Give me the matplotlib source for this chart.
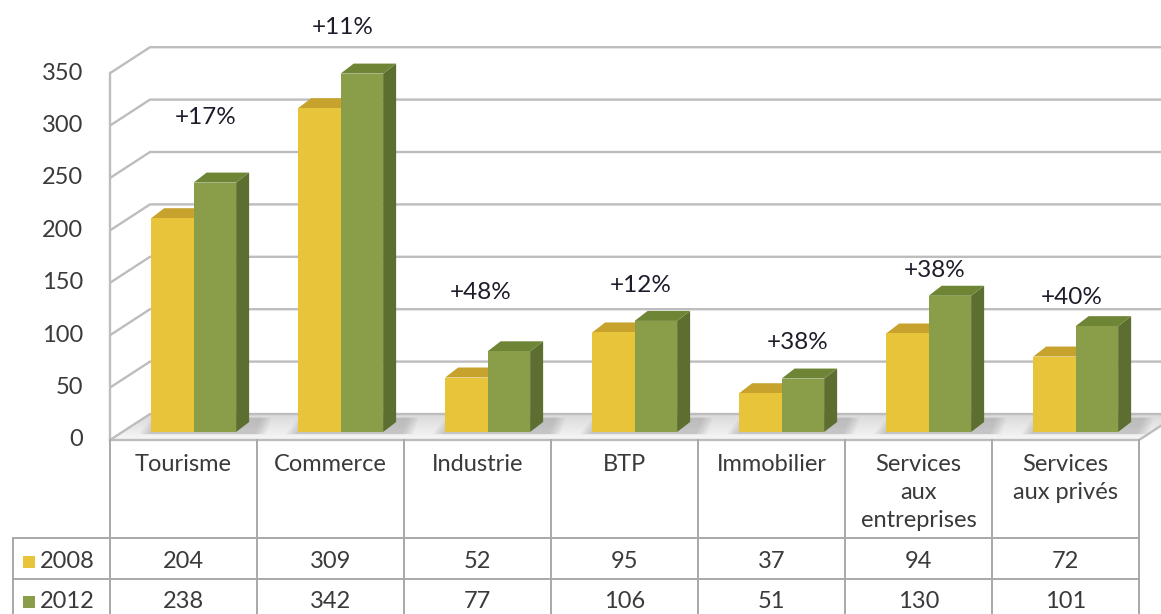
import matplotlib
matplotlib.use("Agg")
import matplotlib.pyplot as plt
from matplotlib.patches import Polygon
import numpy as np

# ---------------- data ----------------
categories = ["Tourisme", "Commerce", "Industrie", "BTP", "Immobilier",
              "Services\naux\nentreprises", "Services\naux privés"]
series_names = ["2008", "2012"]
values_2008 = [204, 309, 52, 95, 37, 94, 72]
values_2012 = [238, 342, 77, 106, 51, 130, 101]
growth_labels = ["+17%", "+11%", "+48%", "+12%", "+38%", "+38%", "+40%"]
yticks = [0, 50, 100, 150, 200, 250, 300, 350]

# ---------------- layout / style ----------------
W, H, DPI = 1161, 614, 100
X0_PX, CW_PX = 110, 147.0      # front plane left edge, category width (px)
Y0_PX, K = 440, 1.048          # value 0 row (px from top), px per unit
WALL_DX, WALL_DY = 40 / CW_PX, 26 / K
BAR_DX, BAR_DY = 13 / CW_PX, 10 / K
FACE_X, BAR_W, FACE_BASE = 0.28, 0.289, 8 / K
label_y = [308, 394, 141, 147, 93, 162, 136]
label_dx = [0.15, 0.08, 0.02, 0.11, 0.18, 0.11, 0.04]

c_front = ["#E8C43A", "#8A9E4A"]
c_top = ["#C7A22D", "#6E8536"]
c_side = ["#B8962A", "#5C6F30"]
grid_c = "#bdbdbd"
table_c = "#a8a8a8"
txt_c = "#3a3a3a"
FS = 17

FONT = ["Lato", "DejaVu Sans"]
plt.rcParams["font.family"] = FONT

fig = plt.figure(figsize=(W / DPI, H / DPI), dpi=DPI)
ax = fig.add_axes([0, 0, 1, 1])
ax.set_xlim(-X0_PX / CW_PX, (W - X0_PX) / CW_PX)
ax.set_ylim((Y0_PX - H) / K, Y0_PX / K)
ax.axis("off")

n = len(categories)
ymax = yticks[-1]
XR = n  # right edge of front plane

def ypx(p):
    return (Y0_PX - p) / K

def xpx(p):
    return (p - X0_PX) / CW_PX

# floor
floor = Polygon([(0, 0), (XR, 0), (XR + WALL_DX, WALL_DY), (WALL_DX, WALL_DY)],
                closed=True, facecolor="#ececec", edgecolor="none", zorder=1)
ax.add_patch(floor)
grad = np.linspace(0, 1, 64).reshape(-1, 1)
im = ax.imshow(grad, extent=(0, XR + WALL_DX, 0, WALL_DY), origin="lower",
               cmap=matplotlib.colors.LinearSegmentedColormap.from_list(
                   "fl", ["#f7f7f7", "#d9d9d9"]), aspect="auto", zorder=1)
im.set_clip_path(floor)

# gridlines: left wall diagonals + back wall
for v in yticks:
    ax.plot([0, WALL_DX, XR + WALL_DX + 1], [v, v + WALL_DY, v + WALL_DY],
            color=grid_c, lw=1.7, zorder=2, solid_capstyle="butt")
ax.plot([0, 0], [0, ymax], color=grid_c, lw=1.7, zorder=2)
# floor front edge & right edge
ax.plot([0, XR, XR + WALL_DX], [0, 0, WALL_DY], color=grid_c, lw=1.7, zorder=2)

# shadows on floor
for i in range(n):
    x0 = i + FACE_X
    x1 = x0 + 2 * BAR_W + BAR_DX
    for k in range(6):
        e = 0.014 * (6 - k)
        sh = Polygon([(x0 - e, FACE_BASE - 2), (x1 + e + 0.03, FACE_BASE - 2),
                      (x1 + e + 0.07, FACE_BASE + BAR_DY + 4),
                      (x0 + BAR_DX - e, FACE_BASE + BAR_DY + 4)],
                     closed=True, facecolor="#8a8a8a", alpha=0.08,
                     edgecolor="none", zorder=3)
        ax.add_patch(sh)

# bars
for i in range(n):
    for s, vals in enumerate([values_2008, values_2012]):
        v = vals[i]
        x0 = i + FACE_X + s * BAR_W
        x1 = x0 + BAR_W
        b = FACE_BASE
        t = b + v
        z = 4 + s
        ax.add_patch(Polygon([(x1, b), (x1 + BAR_DX, b + BAR_DY),
                              (x1 + BAR_DX, t + BAR_DY), (x1, t)],
                             closed=True, facecolor=c_side[s], edgecolor="none", zorder=z))
        ax.add_patch(Polygon([(x0, t), (x1, t), (x1 + BAR_DX, t + BAR_DY),
                              (x0 + BAR_DX, t + BAR_DY)],
                             closed=True, facecolor=c_top[s], edgecolor="none", zorder=z))
        ax.add_patch(Polygon([(x0, b), (x1, b), (x1, t), (x0, t)],
                             closed=True, facecolor=c_front[s], edgecolor="none", zorder=z))

# growth labels
for i in range(n):
    ax.text(i + 0.5 + label_dx[i], label_y[i], growth_labels[i], ha="center",
            va="center", fontsize=17.5, color="#1c1c2a", zorder=10)

# y tick labels
for v in yticks:
    ax.text(xpx(83), v, str(v), ha="right", va="center", fontsize=FS,
            color=txt_c, zorder=10)

# table
r1, r2, r3 = ypx(538), ypx(579), ypx(640)
xl = xpx(13)
for i in range(n + 1):
    ax.plot([i, i], [0, r3], color=table_c, lw=1.4, zorder=2)
ax.plot([xl, xl], [r1, r3], color=table_c, lw=1.4, zorder=2)
for r in (r1, r2):
    ax.plot([xl, XR], [r, r], color=table_c, lw=1.4, zorder=2)

for i, c in enumerate(categories):
    ax.text(i + 0.5, ypx(454), c, ha="center", va="top", fontsize=FS,
            color=txt_c, linespacing=1.4, zorder=10)

row_centers = [ypx(562), ypx(602)]
for s, (name, vals) in enumerate(zip(series_names, [values_2008, values_2012])):
    yc = row_centers[s]
    sq = 12
    ax.add_patch(Polygon([(xpx(23), yc - sq / 2 / K), (xpx(23 + sq), yc - sq / 2 / K),
                          (xpx(23 + sq), yc + sq / 2 / K), (xpx(23), yc + sq / 2 / K)],
                         closed=True, facecolor=c_front[s], edgecolor="none", zorder=5))
    ax.text(xpx(40), yc, name, ha="left", va="center", fontsize=FS, color=txt_c)
    for i, v in enumerate(vals):
        ax.text(i + 0.5, yc, str(v), ha="center", va="center", fontsize=FS,
                color=txt_c)

fig.savefig("out.png", dpi=DPI)
